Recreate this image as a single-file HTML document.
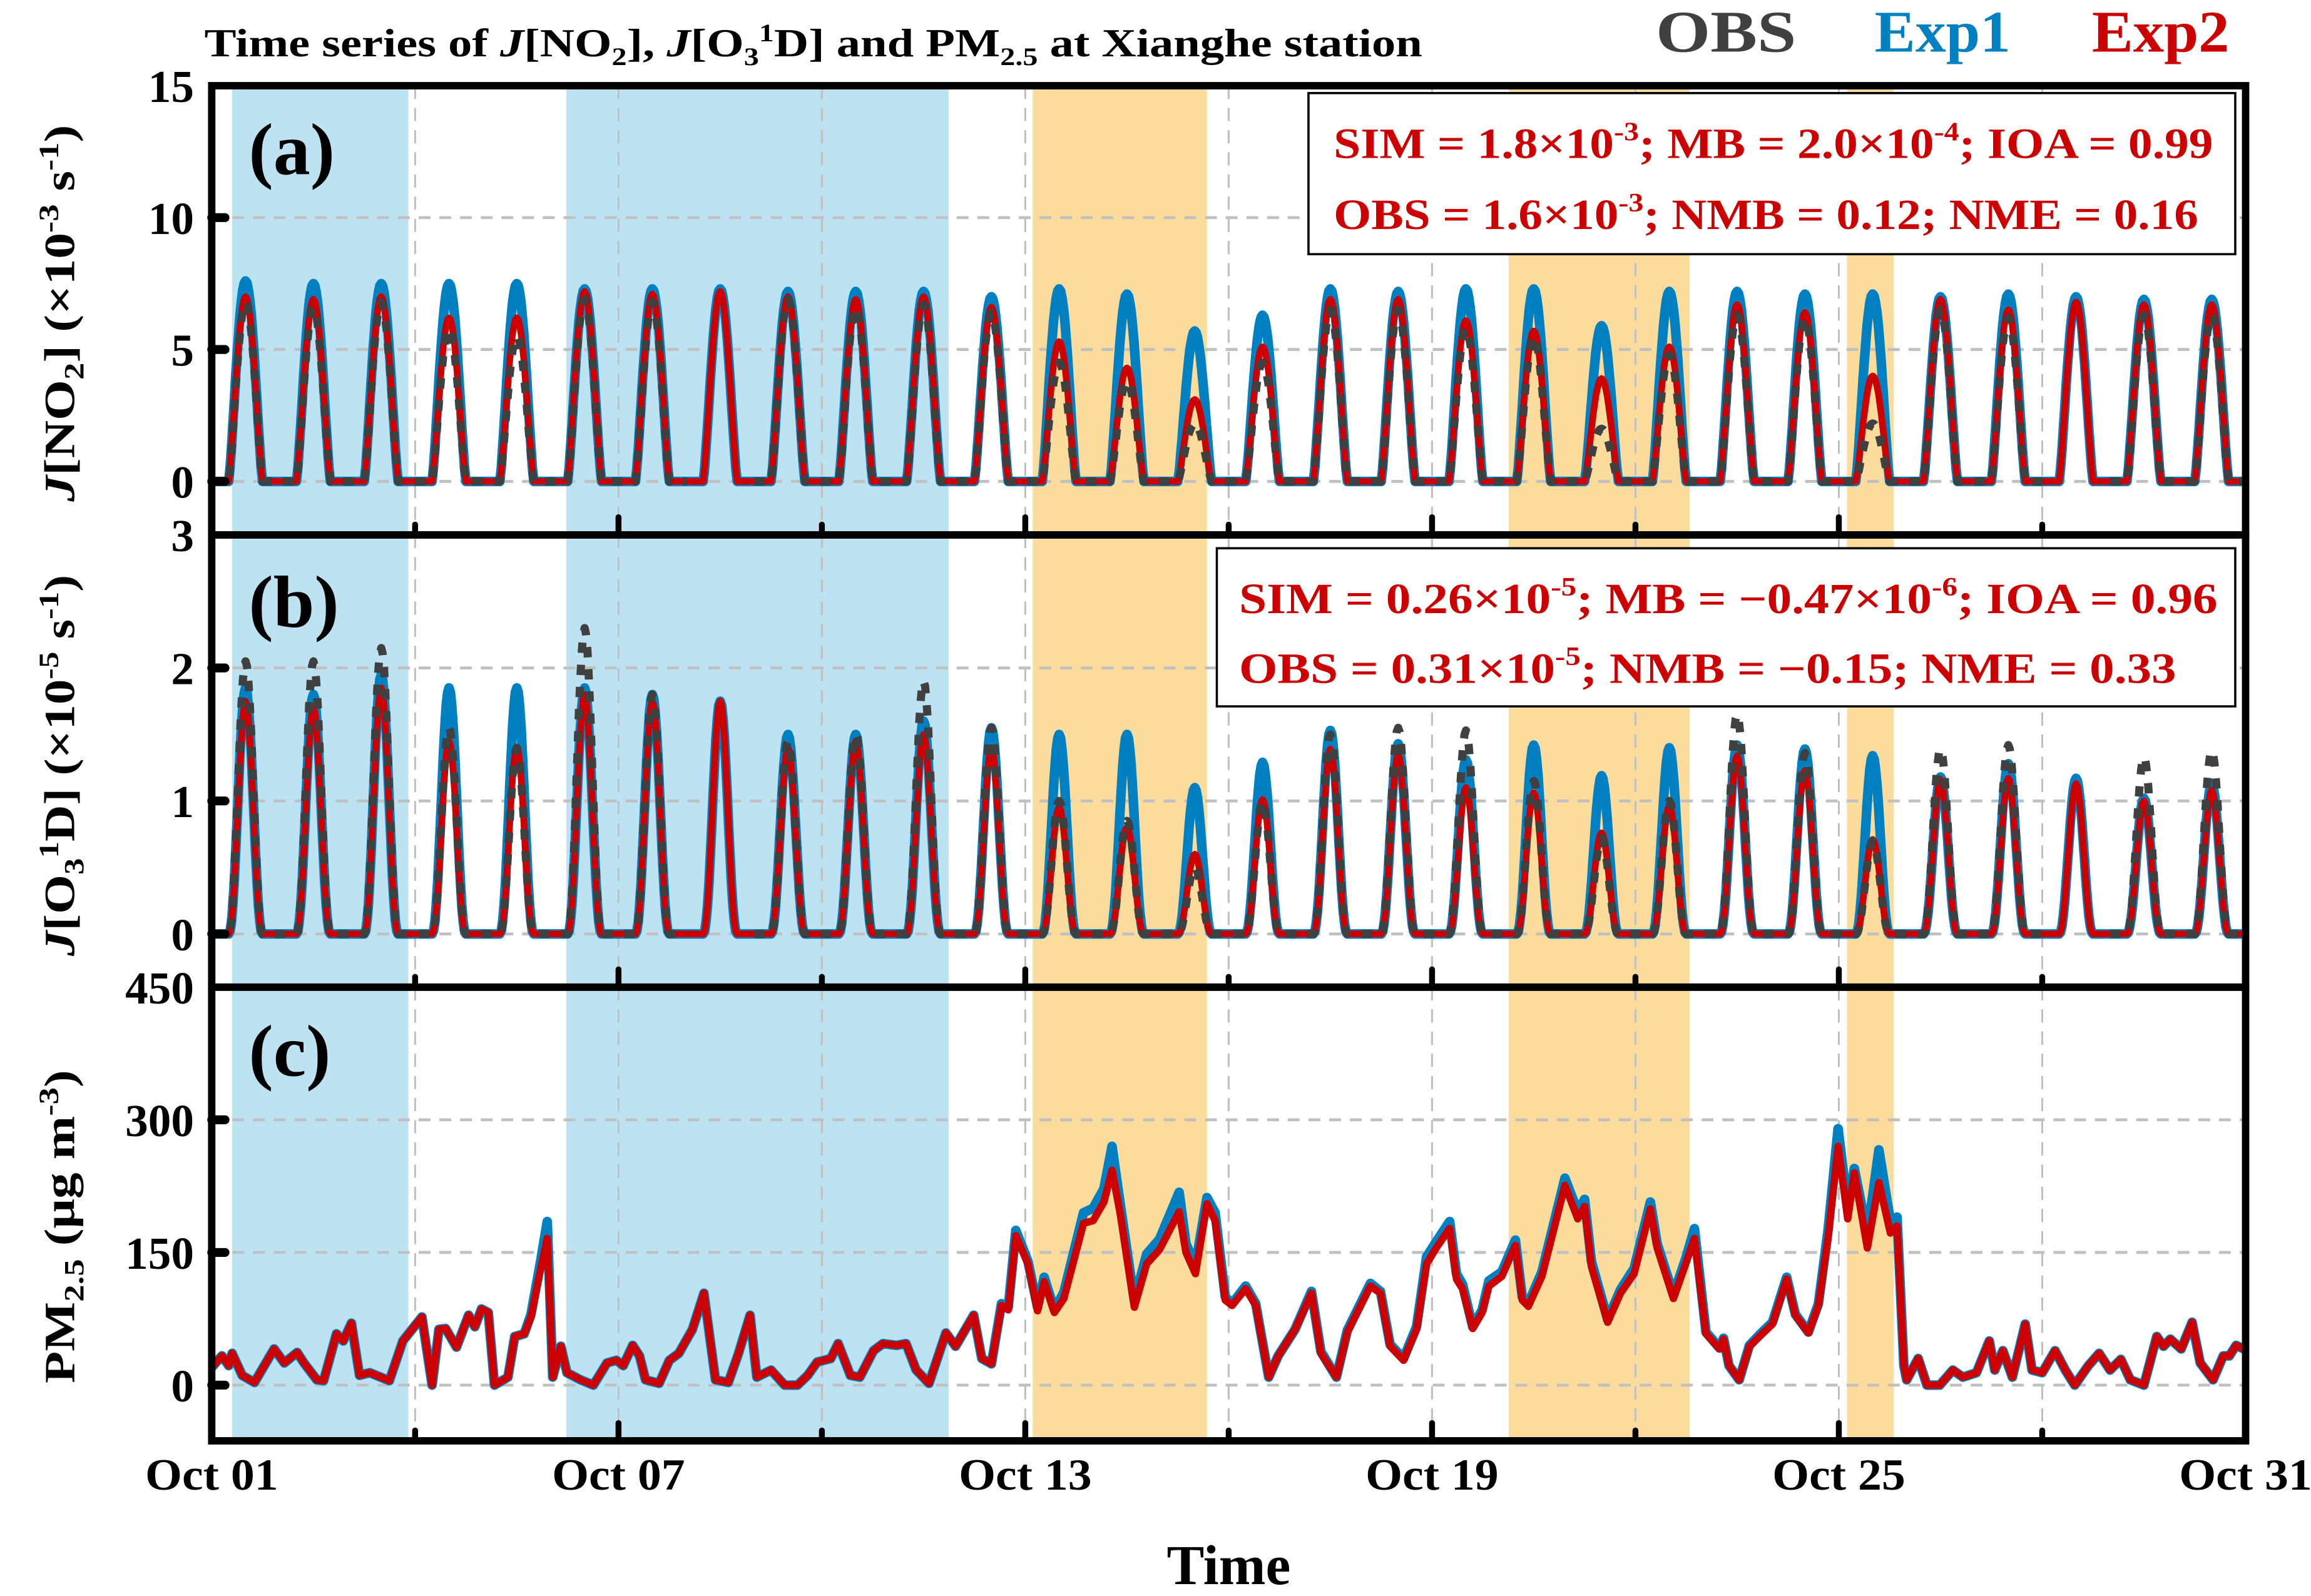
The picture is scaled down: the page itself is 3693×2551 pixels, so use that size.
<!DOCTYPE html>
<html><head><meta charset="utf-8"><style>
html,body{margin:0;padding:0;background:#fff}
svg{display:block}
text{font-family:"Liberation Serif",serif;font-weight:bold}
</style></head><body>
<svg id="chart" xmlns="http://www.w3.org/2000/svg" width="3693" height="2551" viewBox="0 0 1563 1080">
<g id="bands"></g>
<g id="grid"></g>
<g id="series"></g>
<g id="frames"></g>
<g id="labels">
<text x="138" y="38" font-size="27" textLength="824" lengthAdjust="spacingAndGlyphs">Time series of <tspan font-style="italic">J</tspan>[NO<tspan font-size="17" dy="6">2</tspan><tspan dy="-6">], </tspan><tspan font-style="italic">J</tspan>[O<tspan font-size="17" dy="6">3</tspan><tspan font-size="17" dy="-16">1</tspan><tspan dy="10">D] and PM</tspan><tspan font-size="17" dy="6">2.5</tspan><tspan dy="-6"> at Xianghe station</tspan></text>
<text x="1120" y="35" font-size="40" fill="#404040" textLength="95" lengthAdjust="spacingAndGlyphs">OBS</text>
<text x="1268" y="35" font-size="40" fill="#0080c0" textLength="92" lengthAdjust="spacingAndGlyphs">Exp1</text>
<text x="1415" y="35" font-size="40" fill="#cc0000" textLength="93" lengthAdjust="spacingAndGlyphs">Exp2</text>
<text x="168" y="118" font-size="50">(a)</text>
<text x="168" y="424" font-size="50">(b)</text>
<text x="168" y="728" font-size="50">(c)</text>
<g>
<rect x="885" y="63" width="627" height="109" fill="#fff" stroke="#000" stroke-width="1.5"/>
<text x="902" y="107" font-size="29" fill="#cc0000" textLength="595" lengthAdjust="spacingAndGlyphs">SIM = 1.8×10<tspan font-size="18" dy="-12">-3</tspan><tspan dy="12">; MB = 2.0×10</tspan><tspan font-size="18" dy="-12">-4</tspan><tspan dy="12">; IOA = 0.99</tspan></text>
<text x="902" y="155" font-size="29" fill="#cc0000" textLength="585" lengthAdjust="spacingAndGlyphs">OBS = 1.6×10<tspan font-size="18" dy="-12">-3</tspan><tspan dy="12">; NMB = 0.12; NME = 0.16</tspan></text>
</g>
<g>
<rect x="823" y="371" width="689" height="107" fill="#fff" stroke="#000" stroke-width="1.5"/>
<text x="838" y="415" font-size="29" fill="#cc0000" textLength="662" lengthAdjust="spacingAndGlyphs">SIM = 0.26×10<tspan font-size="18" dy="-12">-5</tspan><tspan dy="12">; MB = −0.47×10</tspan><tspan font-size="18" dy="-12">-6</tspan><tspan dy="12">; IOA = 0.96</tspan></text>
<text x="838" y="462" font-size="29" fill="#cc0000" textLength="634" lengthAdjust="spacingAndGlyphs">OBS = 0.31×10<tspan font-size="18" dy="-12">-5</tspan><tspan dy="12">; NMB = −0.15; NME = 0.33</tspan></text>
</g>
<text transform="translate(50,212) rotate(-90)" text-anchor="middle" font-size="29" textLength="255" lengthAdjust="spacingAndGlyphs"><tspan font-style="italic">J</tspan>[NO<tspan font-size="19" dy="6">2</tspan><tspan dy="-6">] (×10</tspan><tspan font-size="19" dy="-11">-3</tspan><tspan dy="11"> s</tspan><tspan font-size="19" dy="-11">-1</tspan><tspan dy="11">)</tspan></text>
<text transform="translate(50,518) rotate(-90)" text-anchor="middle" font-size="29" textLength="258" lengthAdjust="spacingAndGlyphs"><tspan font-style="italic">J</tspan>[O<tspan font-size="19" dy="6">3</tspan><tspan font-size="19" dy="-17">1</tspan><tspan dy="11">D] (×10</tspan><tspan font-size="19" dy="-11">-5</tspan><tspan dy="11"> s</tspan><tspan font-size="19" dy="-11">-1</tspan><tspan dy="11">)</tspan></text>
<text transform="translate(50,830) rotate(-90)" text-anchor="middle" font-size="29" textLength="212" lengthAdjust="spacingAndGlyphs">PM<tspan font-size="19" dy="6">2.5</tspan><tspan dy="-6"> (μg m</tspan><tspan font-size="19" dy="-11">-3</tspan><tspan dy="11">)</tspan></text>
<text x="831" y="1072" text-anchor="middle" font-size="38">Time</text>
</g>
</svg>
<script>
const days = 30;
const bandStarts = [0.3, 5.23, 12.11, 19.13, 24.12];
const bandEnds = [2.9, 10.87, 14.68, 21.8, 24.81];
const bandKinds = ['blue','blue','orange','orange','orange'];
const xTickDays = [0, 6, 12, 18, 24, 30];
const xTickLabels = ['Oct 01','Oct 07','Oct 13','Oct 19','Oct 25','Oct 31'];
const gridDays = [3, 6, 9, 12, 15, 18, 21, 24, 27];
const no2Ticks = [0, 5, 10, 15];
const o1dTicks = [0, 1, 2, 3];
const pmTicks = [0, 150, 300, 450];
// daily peak values
const no2Obs = [6.8,6.6,6.8,5.8,5.5,6.9,6.8,null,6.9,6.6,6.7,6.4,4.5,3.8,2.2,4.5,6.5,6.5,5.8,5.5,2.0,4.8,6.3,6.2,2.2,6.5,6.2,null,6.3,6.3];
const no2Exp1 = [7.6,7.5,7.5,7.5,7.5,7.3,7.3,7.3,7.2,7.2,7.2,7.0,7.3,7.1,5.7,6.3,7.3,7.2,7.3,7.3,5.9,7.2,7.2,7.1,7.1,7.0,7.1,7.0,6.9,6.9];
const no2Exp2 = [7.0,6.9,7.0,6.2,6.2,7.2,7.1,7.2,7.0,6.9,7.0,6.6,5.3,4.3,3.1,5.1,6.9,6.9,6.1,5.7,3.9,5.1,6.7,6.4,4.0,6.9,6.5,6.8,6.7,6.7];
const o1dObs = [2.05,2.05,2.15,1.55,1.4,2.3,1.8,null,1.45,1.5,1.9,1.55,1.0,0.85,0.5,1.0,1.5,1.55,1.53,1.15,0.72,1.0,1.65,1.36,0.7,1.39,1.42,null,1.33,1.38];
const o1dExp1 = [1.85,1.8,1.95,1.85,1.85,1.85,1.8,1.75,1.5,1.5,1.6,1.55,1.5,1.5,1.1,1.29,1.53,1.43,1.31,1.42,1.19,1.40,1.42,1.39,1.34,1.18,1.28,1.17,1.02,1.13];
const o1dExp2 = [1.75,1.7,1.85,1.45,1.4,1.8,1.75,1.75,1.4,1.45,1.5,1.4,0.95,0.8,0.6,1.01,1.39,1.35,1.1,1.06,0.76,0.96,1.34,1.23,0.71,1.16,1.17,1.13,1.0,1.08];
// PM2.5 (ug m-3)
const pmTimes = [0,0.15,0.25,0.3,0.45,0.63,0.92,1.07,1.26,1.36,1.55,1.65,1.84,1.94,2.06,2.18,2.33,2.62,2.82,3.1,3.25,3.35,3.45,3.61,3.79,3.88,3.98,4.08,4.17,4.37,4.47,4.61,4.71,4.85,4.95,5.03,5.15,5.24,5.44,5.63,5.83,5.97,6.07,6.21,6.31,6.4,6.6,6.75,6.89,7.09,7.26,7.43,7.62,7.77,7.94,8.04,8.25,8.45,8.64,8.79,8.93,9.13,9.24,9.42,9.56,9.76,9.9,10.1,10.24,10.39,10.58,10.83,10.97,11.24,11.36,11.5,11.65,11.75,11.86,12.04,12.18,12.28,12.43,12.57,12.86,13.0,13.16,13.28,13.4,13.61,13.79,13.98,14.27,14.37,14.51,14.68,14.8,14.95,15.05,15.25,15.4,15.59,15.73,15.98,16.22,16.36,16.59,16.75,17.09,17.24,17.38,17.58,17.77,17.92,18.06,18.26,18.36,18.45,18.6,18.74,18.84,19.03,19.23,19.33,19.42,19.62,19.96,20.15,20.25,20.35,20.59,20.78,20.98,21.22,21.32,21.56,21.75,21.87,22.04,22.24,22.3,22.38,22.53,22.68,22.87,23.02,23.23,23.36,23.55,23.7,23.84,23.99,24.13,24.23,24.42,24.59,24.76,24.86,24.96,25.0,25.17,25.3,25.49,25.68,25.83,26.03,26.22,26.3,26.42,26.56,26.75,26.85,27.0,27.19,27.34,27.48,27.68,27.84,28.0,28.16,28.3,28.5,28.69,28.79,28.89,29.05,29.21,29.33,29.52,29.67,29.76,29.86,30.0];
const pmExp2 = [20,33,22,36,11,3,41,25,37,25,6,5,58,50,70,11,14,5,50,77,0,63,64,43,79,66,86,82,0,9,55,58,77,131,166,9,44,14,6,0,25,28,22,45,33,6,2,28,36,63,104,6,3,36,79,9,17,0,0,11,26,30,47,11,9,39,47,45,47,17,2,59,44,79,30,24,90,85,169,137,84,117,82,98,183,186,207,243,194,88,137,153,196,150,126,205,186,96,90,109,90,9,33,63,104,36,9,60,112,104,44,28,63,137,155,177,120,109,64,82,112,123,158,96,89,123,226,188,202,134,71,104,126,199,155,98,139,166,58,41,52,22,6,44,58,69,120,79,59,90,166,270,188,240,155,229,172,180,22,6,30,0,0,17,9,14,50,17,39,9,69,17,14,39,17,0,22,36,17,29,6,0,55,44,52,41,71,25,6,33,33,45,40];
const pmExp1 = [20,33,22,36,11,3,41,25,37,25,6,5,58,50,70,11,14,5,50,77,0,63,64,43,79,66,86,82,0,9,55,58,80,140,185,9,44,14,6,0,25,28,22,45,33,6,2,28,36,63,104,6,3,36,79,9,17,0,0,11,26,30,47,11,9,39,47,45,47,17,2,59,44,79,30,24,92,88,175,140,88,122,85,105,195,200,222,270,205,95,148,165,218,160,135,212,195,100,92,112,92,9,33,63,106,38,9,62,115,106,46,30,66,145,162,185,126,114,66,85,118,128,164,100,92,128,234,196,210,140,74,108,132,207,160,102,145,177,60,42,53,22,6,45,60,71,122,80,60,92,175,290,200,245,170,266,185,190,22,6,30,0,0,17,9,14,50,17,39,9,69,17,14,39,17,0,22,36,17,29,6,0,55,44,52,41,71,25,6,33,33,45,40];

const NS = 'http://www.w3.org/2000/svg';
const X0 = 143, X1 = 1519;
function xs(d){ return X0 + d/days*(X1-X0); }
const panels = {
  a:{top:58,bottom:362,vmin:-2.03,vmax:15},
  b:{top:362,bottom:668,vmin:-0.4,vmax:3},
  c:{top:668,bottom:975,vmin:-63,vmax:450}
};
function ys(p,v){ const P=panels[p]; return P.bottom - (v-P.vmin)/(P.vmax-P.vmin)*(P.bottom-P.top); }
function mk(tag, attrs, parent){ const e=document.createElementNS(NS,tag); for(const k in attrs) e.setAttribute(k,attrs[k]); parent.appendChild(e); return e; }

const gB = document.getElementById('bands'), gG = document.getElementById('grid'), gS = document.getElementById('series'), gF = document.getElementById('frames');
const pkeys = ['a','b','c'];
for(let i=0;i<bandStarts.length;i++){
  const r = mk('rect',{x:xs(bandStarts[i]),y:58,width:xs(bandEnds[i])-xs(bandStarts[i]),height:975-58,fill:bandKinds[i]==='blue'?'#bde3f3':'#fcdc9c'},gB);
  
  
}
const tickSets = {a:no2Ticks,b:o1dTicks,c:pmTicks};
pkeys.forEach(p=>{
  const P=panels[p];
  gridDays.forEach(d=>{
    const l=mk('line',{x1:xs(d),x2:xs(d),y1:P.top,y2:P.bottom,stroke:'#c0c0c0','stroke-width':1.3,'stroke-dasharray':'9 6'},gG);
    
    
  });
  tickSets[p].forEach((v,i)=>{
    if(i<tickSets[p].length-1){
      const l=mk('line',{x1:X0,x2:X1,y1:ys(p,v),y2:ys(p,v),stroke:'#c0c0c0','stroke-width':2,'stroke-dasharray':'8 6'},gG);
      
      
      const tk=mk('line',{x1:X0,x2:X0+9,y1:ys(p,v),y2:ys(p,v),stroke:'#000','stroke-width':6,'stroke-linecap':'round'},gF);
      
      
    }
    const t=mk('text',{x:131,y:ys(p,v)+11,'text-anchor':'end','font-size':31},gF);
    t.textContent=String(v);
    
    
  });
});
function dailyPath(p, peaks, pw){
  let d='', pen=false;
  for(let k=0;k<peaks.length;k++){
    if(peaks[k]===null){ pen=false; continue; }
    for(let h=0;h<=24;h+=0.5){
      const day=k+h/24;
      let f=0; if(h>6 && h<18) f=Math.pow(Math.sin(Math.PI*(h-6)/12),pw);
      d += (pen?'L':'M')+xs(day).toFixed(1)+' '+ys(p,peaks[k]*f).toFixed(1);
      pen=true;
    }
  }
  return d;
}
function addSeries(p, peaks, pw, color, w, dash, name){
  const a={d:dailyPath(p,peaks,pw),fill:'none',stroke:color,'stroke-width':w,'stroke-linejoin':'round'};
  if(dash) a['stroke-dasharray']=dash;
  const e=mk('path',a,gS);
  
  
}
addSeries('a',no2Exp1,1.3,'#0080c0',6.5,null,'jno2-exp1-line');
addSeries('a',no2Exp2,1.3,'#cc0000',4.5,null,'jno2-exp2-line');
addSeries('a',no2Obs,1.3,'#404040',5.5,'7 8','jno2-obs-line');
addSeries('b',o1dExp1,2.2,'#0080c0',6.5,null,'jo1d-exp1-line');
addSeries('b',o1dExp2,2.2,'#cc0000',4.5,null,'jo1d-exp2-line');
addSeries('b',o1dObs,2.2,'#404040',5.5,'7 8','jo1d-obs-line');
function pmPath(vals){
  const n=Math.min(vals.length,pmTimes.length); let d='';
  for(let i=0;i<n;i++) d+=(i?'L':'M')+xs(pmTimes[i]).toFixed(1)+' '+ys('c',vals[i]).toFixed(1);
  return d;
}
const e1=mk('path',{d:pmPath(pmExp1),fill:'none',stroke:'#0080c0','stroke-width':6.5,'stroke-linejoin':'round'},gS);


const e2=mk('path',{d:pmPath(pmExp2),fill:'none',stroke:'#cc0000','stroke-width':5,'stroke-linejoin':'round'},gS);


pkeys.forEach(p=>{
  const P=panels[p];
  const r=mk('rect',{x:X0,y:P.top,width:X1-X0,height:P.bottom-P.top,fill:'none',stroke:'#000','stroke-width':5},gF);
  
  
  gridDays.forEach(d=>{
    const major = (d%6===0);
    const tk=mk('line',{x1:xs(d),x2:xs(d),y1:P.bottom,y2:P.bottom-(major?12:7),stroke:'#000','stroke-width':4,'stroke-linecap':'round'},gF);
    
    
  });
});
xTickDays.forEach((d,i)=>{
  const t=mk('text',{x:xs(d),y:1008,'text-anchor':'middle','font-size':30,textLength:90,lengthAdjust:'spacingAndGlyphs'},gF);
  t.textContent=xTickLabels[i];
  
  
});
</script>
</body></html>
